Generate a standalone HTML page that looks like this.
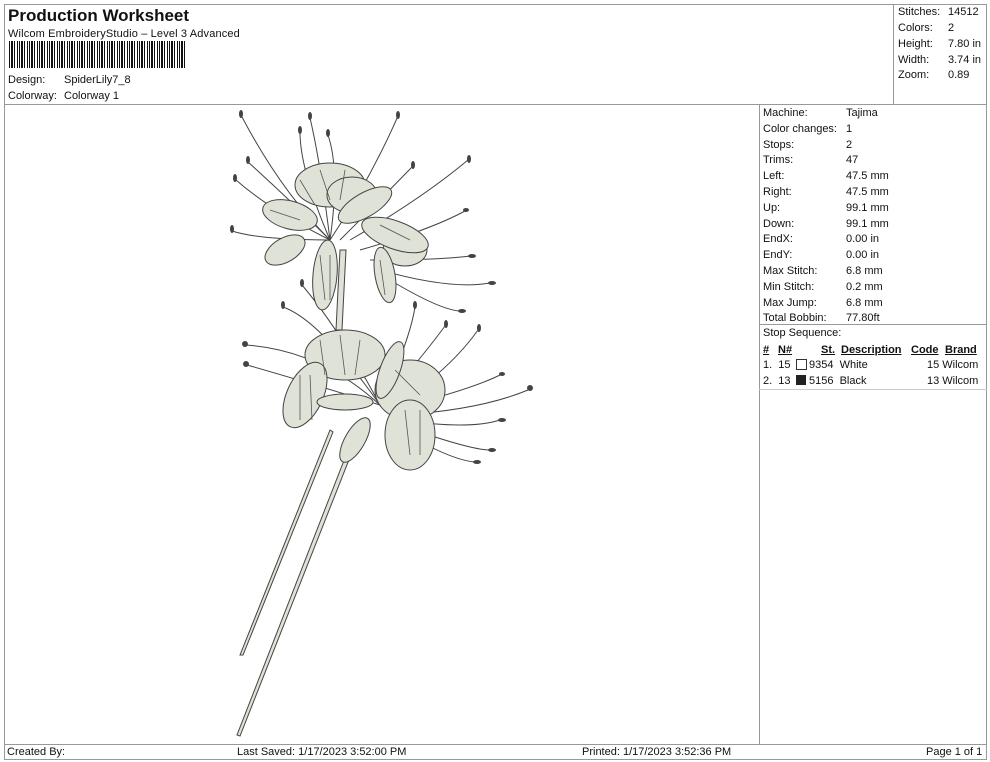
<!DOCTYPE html>
<html><head><style>
body{margin:0;width:990px;height:762px;background:#fff;font-family:"Liberation Sans",sans-serif;color:#111;position:relative;overflow:hidden}
.a{position:absolute;white-space:nowrap;font-size:11px;line-height:13px}
.l{position:absolute;background:#999}
</style></head><body>
<div class="l" style="left:4px;top:4px;width:983px;height:1px"></div>
<div class="l" style="left:4px;top:759px;width:983px;height:1px"></div>
<div class="l" style="left:4px;top:4px;width:1px;height:756px"></div>
<div class="l" style="left:986px;top:4px;width:1px;height:756px"></div>
<div class="l" style="left:4px;top:104px;width:983px;height:1px"></div>
<div class="l" style="left:4px;top:744px;width:983px;height:1px"></div>
<div class="l" style="left:893px;top:4px;width:1px;height:100px"></div>
<div class="l" style="left:759px;top:104px;width:1px;height:640px"></div>
<div class="l" style="left:759px;top:324px;width:228px;height:1px"></div>
<div class="l" style="left:759px;top:389px;width:228px;height:1px;background:#ccc"></div>

<div class="a" style="left:8px;top:6px;font-size:17px;line-height:20px;font-weight:bold">Production Worksheet</div>
<div class="a" style="left:8px;top:28px;letter-spacing:0.15px">Wilcom EmbroideryStudio – Level 3 Advanced</div>
<div style="position:absolute;left:9px;top:41px;width:177px;height:27px;background:repeating-linear-gradient(90deg,#111 0 1px,#fff 1px 2px,#111 2px 4px,#fff 4px 5px,#111 5px 6px,#fff 6px 8px,#111 8px 9px,#fff 9px 10px)"></div>
<div class="a" style="left:8px;top:74px">Design:</div><div class="a" style="left:64px;top:74px">SpiderLily7_8</div>
<div class="a" style="left:8px;top:90px">Colorway:</div><div class="a" style="left:64px;top:90px">Colorway 1</div>

<div class="a" style="left:898px;top:6px">Stitches:</div><div class="a" style="left:948px;top:6px">14512</div>
<div class="a" style="left:898px;top:22px">Colors:</div><div class="a" style="left:948px;top:22px">2</div>
<div class="a" style="left:898px;top:38px">Height:</div><div class="a" style="left:948px;top:38px">7.80 in</div>
<div class="a" style="left:898px;top:54px">Width:</div><div class="a" style="left:948px;top:54px">3.74 in</div>
<div class="a" style="left:898px;top:69px">Zoom:</div><div class="a" style="left:948px;top:69px">0.89</div>

<div class="a" style="left:763px;top:106px;line-height:15.8px">Machine:<br>Color changes:<br>Stops:<br>Trims:<br>Left:<br>Right:<br>Up:<br>Down:<br>EndX:<br>EndY:<br>Max Stitch:<br>Min Stitch:<br>Max Jump:<br>Total Bobbin:</div>
<div class="a" style="left:846px;top:106px;line-height:15.8px">Tajima<br>1<br>2<br>47<br>47.5 mm<br>47.5 mm<br>99.1 mm<br>99.1 mm<br>0.00 in<br>0.00 in<br>6.8 mm<br>0.2 mm<br>6.8 mm<br>77.80ft</div>
<div class="a" style="left:763px;top:327px">Stop Sequence:</div>
<div class="a" style="left:763px;top:344px;font-weight:bold;text-decoration:underline">#</div>
<div class="a" style="left:778px;top:344px;font-weight:bold;text-decoration:underline">N#</div>
<div class="a" style="left:821px;top:344px;font-weight:bold;text-decoration:underline">St.</div>
<div class="a" style="left:841px;top:344px;font-weight:bold;text-decoration:underline">Description</div>
<div class="a" style="left:911px;top:344px;font-weight:bold;text-decoration:underline">Code</div>
<div class="a" style="left:945px;top:344px;font-weight:bold;text-decoration:underline">Brand</div>
<div class="a" style="left:763px;top:359px">1.&nbsp; 15</div>
<div style="position:absolute;left:796px;top:359px;width:9px;height:9px;border:1px solid #333;background:#fff"></div>
<div class="a" style="left:809px;top:359px">9354&nbsp; White</div>
<div class="a" style="left:927px;top:359px">15 Wilcom</div>
<div class="a" style="left:763px;top:375px">2.&nbsp; 13</div>
<div style="position:absolute;left:796px;top:375px;width:10px;height:10px;background:#222"></div>
<div class="a" style="left:809px;top:375px">5156&nbsp; Black</div>
<div class="a" style="left:927px;top:375px">13 Wilcom</div>

<div class="a" style="left:7px;top:746px">Created By:</div>
<div class="a" style="left:237px;top:746px">Last Saved: 1/17/2023 3:52:00 PM</div>
<div class="a" style="left:582px;top:746px">Printed: 1/17/2023 3:52:36 PM</div>
<div class="a" style="left:926px;top:746px">Page 1 of 1</div>

<svg style="position:absolute;left:0;top:0" width="990" height="762">
<g fill="#dfe2d6" stroke="#444" stroke-width="1">
<path d="M330 430 L240 655 L243 655 L333 432Z"/>
<path d="M350 445 L237 735 L240 736 L354 447Z"/>
<path d="M340 250 L336 330 L342 330 L346 250Z"/>
</g>
<g fill="none" stroke="#444" stroke-width="1">
<path d="M330 240 Q280 190 241 115"/><path d="M330 240 Q290 200 248 162"/><path d="M330 240 Q270 210 236 180"/><path d="M330 240 Q260 240 232 231"/>
<path d="M330 240 Q300 170 300 132"/><path d="M330 240 Q320 160 310 118"/><path d="M330 240 Q340 170 328 135"/>
<path d="M330 240 Q370 180 398 116"/><path d="M340 240 Q380 200 412 167"/><path d="M350 240 Q420 200 468 160"/><path d="M360 250 Q430 230 465 211"/>
<path d="M370 260 Q440 260 470 256"/><path d="M380 270 Q450 290 490 283"/><path d="M390 280 Q440 310 460 311"/>
<path d="M380 405 Q320 350 246 345"/><path d="M380 405 Q300 380 247 365"/><path d="M380 405 Q320 320 283 307"/><path d="M380 405 Q340 330 302 285"/>
<path d="M380 405 Q410 340 415 307"/><path d="M380 405 Q420 360 445 326"/><path d="M390 410 Q450 370 478 330"/>
<path d="M390 410 Q470 390 500 375"/><path d="M400 415 Q480 410 528 390"/><path d="M400 420 Q470 430 500 420"/><path d="M400 425 Q470 450 490 450"/><path d="M400 430 Q450 460 475 462"/>
</g>
<g fill="#444">
<ellipse cx="241" cy="114" rx="2" ry="4"/><ellipse cx="248" cy="160" rx="2" ry="4"/><ellipse cx="235" cy="178" rx="2" ry="4"/><ellipse cx="232" cy="229" rx="2" ry="4"/>
<ellipse cx="300" cy="130" rx="2" ry="4"/><ellipse cx="310" cy="116" rx="2" ry="4"/><ellipse cx="328" cy="133" rx="2" ry="4"/>
<ellipse cx="398" cy="115" rx="2" ry="4"/><ellipse cx="413" cy="165" rx="2" ry="4"/><ellipse cx="469" cy="159" rx="2" ry="4"/><ellipse cx="466" cy="210" rx="3" ry="2"/>
<ellipse cx="472" cy="256" rx="4" ry="2"/><ellipse cx="492" cy="283" rx="4" ry="2"/><ellipse cx="462" cy="311" rx="4" ry="2"/>
<ellipse cx="245" cy="344" rx="3" ry="3"/><ellipse cx="246" cy="364" rx="3" ry="3"/><ellipse cx="283" cy="305" rx="2" ry="4"/><ellipse cx="302" cy="283" rx="2" ry="4"/>
<ellipse cx="415" cy="305" rx="2" ry="4"/><ellipse cx="446" cy="324" rx="2" ry="4"/><ellipse cx="479" cy="328" rx="2" ry="4"/>
<ellipse cx="502" cy="374" rx="3" ry="2"/><ellipse cx="530" cy="388" rx="3" ry="3"/><ellipse cx="502" cy="420" rx="4" ry="2"/><ellipse cx="492" cy="450" rx="4" ry="2"/><ellipse cx="477" cy="462" rx="4" ry="2"/>
</g>
<g fill="#dfe2d6" stroke="#444" stroke-width="1">
<ellipse cx="330" cy="185" rx="35" ry="22"/>
<ellipse cx="352" cy="195" rx="25" ry="18"/>
<ellipse cx="290" cy="215" rx="28" ry="14" transform="rotate(15 290 215)"/>
<ellipse cx="285" cy="250" rx="22" ry="12" transform="rotate(-30 285 250)"/>
<ellipse cx="405" cy="250" rx="22" ry="16"/>
<ellipse cx="395" cy="235" rx="35" ry="14" transform="rotate(20 395 235)"/>
<ellipse cx="325" cy="275" rx="12" ry="35" transform="rotate(5 325 275)"/>
<ellipse cx="385" cy="275" rx="10" ry="28" transform="rotate(-10 385 275)"/>
<ellipse cx="365" cy="205" rx="30" ry="12" transform="rotate(-30 365 205)"/>
<ellipse cx="345" cy="355" rx="40" ry="25"/>
<ellipse cx="305" cy="395" rx="18" ry="35" transform="rotate(25 305 395)"/>
<ellipse cx="410" cy="390" rx="35" ry="30"/>
<ellipse cx="410" cy="435" rx="25" ry="35"/>
<ellipse cx="355" cy="440" rx="10" ry="25" transform="rotate(30 355 440)"/>
<ellipse cx="345" cy="402" rx="28" ry="8"/>
<ellipse cx="390" cy="370" rx="10" ry="30" transform="rotate(20 390 370)"/>
</g>
<g stroke="#555" stroke-width="0.8" fill="none">
<path d="M300 180 L315 205 M320 170 L330 200 M345 170 L340 200 M270 210 L300 220 M380 225 L410 240 M320 255 L325 300 M330 255 L330 300 M380 260 L385 295 M320 340 L325 375 M340 335 L345 375 M360 340 L355 375 M395 370 L420 395 M405 410 L410 455 M420 410 L420 455 M300 375 L300 420 M310 375 L312 420"/>
</g>
</svg>
</body></html>
